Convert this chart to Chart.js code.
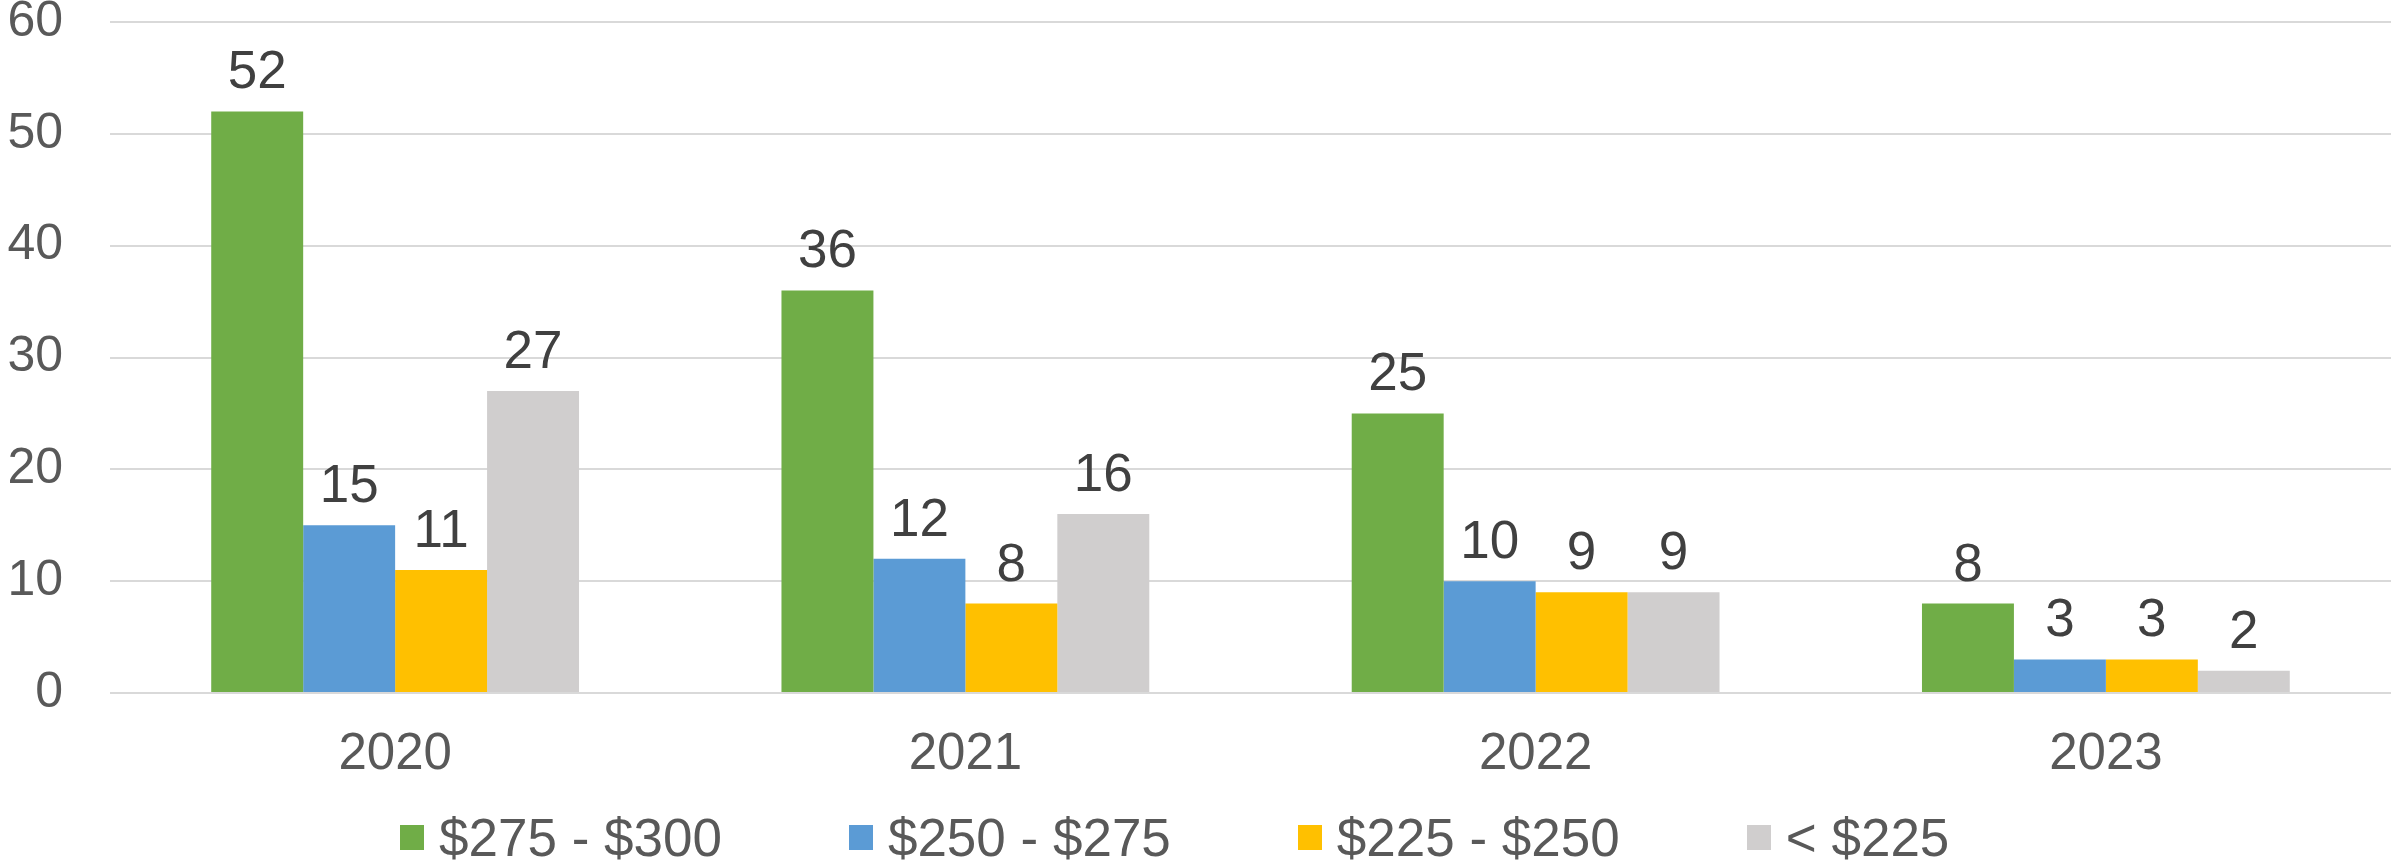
<!DOCTYPE html>
<html>
<head>
<meta charset="utf-8">
<script src="https://cdn.jsdelivr.net/npm/chart.js@4/dist/chart.umd.min.js"></script>
<style>
    html, body { margin: 0; padding: 0; background: #fff; }
    body { width: 2392px; height: 865px; position: relative; overflow: hidden; font-family: "Liberation Sans", Arial, sans-serif; }
    .chart-wrap { position: absolute; left: 0; top: 0; width: 2392px; height: 790px; }
    .legend { position: absolute; left: 400px; top: 812px; height: 50px; display: flex; align-items: center; gap: 127px; }
    .legend-item { display: flex; align-items: center; font-size: 53px; color: #595959; white-space: nowrap; }
    .legend-box { width: 24px; height: 25px; margin-right: 15px; }
</style>
</head>
<body>
<div class="chart-wrap"><canvas id="priceChart"></canvas></div>
<div class="legend" id="legend"></div>
<script>
const categories = ['2020', '2021', '2022', '2023'];
const seriesNames = ['$275 - $300', '$250 - $275', '$225 - $250', '< $225'];
const seriesColors = ['#70AD47', '#5B9BD5', '#FFC000', '#D0CECE'];
const band275to300 = [52, 36, 25, 8];
const band250to275 = [15, 12, 10, 3];
const band225to250 = [11, 8, 9, 3];
const bandUnder225 = [27, 16, 9, 2];
const yTicks = [0, 10, 20, 30, 40, 50, 60];

const seriesValues = [band275to300, band250to275, band225to250, bandUnder225];

// value labels over each bar
const barLabels = {
    id: 'barLabels',
    afterDatasetsDraw(chart) {
        const { ctx } = chart;
        ctx.save();
        ctx.font = '53px "Liberation Sans", Arial, sans-serif';
        ctx.fillStyle = '#404040';
        ctx.textAlign = 'center';
        ctx.textBaseline = 'alphabetic';
        chart.data.datasets.forEach((ds, i) => {
            chart.getDatasetMeta(i).data.forEach((bar, j) => {
                ctx.fillText(String(ds.data[j]), bar.x, bar.y - 23);
            });
        });
        ctx.restore();
    },
};

const ctx = document.getElementById('priceChart').getContext('2d');

new Chart(ctx, {
    type: 'bar',
    data: {
        labels: categories,
        datasets: seriesNames.map((name, i) => ({
            label: name,
            data: seriesValues[i],
            backgroundColor: seriesColors[i],
            borderWidth: 0,
            categoryPercentage: 0.645,
            barPercentage: 1.0,
        })),
    },
    options: {
        responsive: true,
        maintainAspectRatio: false,
        animation: false,
        layout: { padding: { left: 7, right: 1, top: 0, bottom: 8 } },
        plugins: {
            legend: { display: false },
            tooltip: { enabled: false },
        },
        scales: {
            x: {
                grid: { display: false, drawTicks: false },
                border: { display: false },
                ticks: {
                    padding: 31,
                    color: '#595959',
                    font: { family: '"Liberation Sans", Arial, sans-serif', size: 51, lineHeight: 1.2 },
                },
                afterFit: (axis) => { axis.height = 89; },
            },
            y: {
                min: 0,
                max: 60,
                afterBuildTicks: (axis) => { axis.ticks = yTicks.map(v => ({ value: v })); },
                grid: { color: '#D9D9D9', lineWidth: 2, drawTicks: false },
                border: { display: false },
                ticks: {
                    padding: 47,
                    color: '#595959',
                    font: { family: '"Liberation Sans", Arial, sans-serif', size: 50, lineHeight: 1.2 },
                },
                afterFit: (axis) => {
                    axis.width = 103;
                    axis.paddingTop = 22;
                    axis.paddingBottom = 0;
                },
            },
        },
    },
    plugins: [barLabels],
});

const legend = document.getElementById('legend');
seriesNames.forEach((name, i) => {
    const item = document.createElement('div');
    item.className = 'legend-item';
    const box = document.createElement('span');
    box.className = 'legend-box';
    box.style.background = seriesColors[i];
    item.appendChild(box);
    item.appendChild(document.createTextNode(name));
    legend.appendChild(item);
});
</script>
</body>
</html>
